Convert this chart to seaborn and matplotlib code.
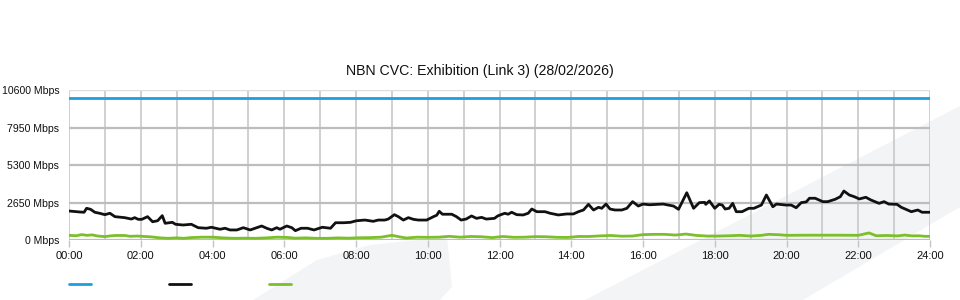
import numpy as np
import pandas as pd
import matplotlib
matplotlib.use("Agg")
import matplotlib.pyplot as plt
from matplotlib.patches import Polygon
from matplotlib.lines import Line2D
import seaborn as sns

# ---- data ----
title = "NBN CVC: Exhibition (Link 3) (28/02/2026)"
y_ticks = [0, 2650, 5300, 7950, 10600]
y_labels = ["0 Mbps", "2650 Mbps", "5300 Mbps", "7950 Mbps", "10600 Mbps"]
x_ticks = list(range(0, 25, 2))
x_labels = [f"{h:02d}:00" for h in x_ticks]

capacity_hours = [0, 24]
capacity = [10000, 10000]

down_hours = [0, 0.3, 0.42, 0.49, 0.6, 0.72, 0.85, 1.0, 1.14, 1.28, 1.55, 1.74, 1.83, 1.93, 2.03,
              2.19, 2.33, 2.47, 2.6, 2.68, 2.88, 2.97, 3.18, 3.41, 3.6, 3.83, 3.97, 4.21, 4.35,
              4.49, 4.68, 4.86, 5.05, 5.19, 5.37, 5.51, 5.65, 5.79, 5.88, 6.07, 6.21, 6.31, 6.47,
              6.65, 6.83, 7.06, 7.29, 7.43, 7.66, 7.85, 8.01, 8.25, 8.48, 8.62, 8.8, 8.9, 9.07,
              9.18, 9.32, 9.46, 9.6, 9.74, 9.97, 10.16, 10.25, 10.32, 10.41, 10.67, 10.8, 10.93,
              11.07, 11.22, 11.36, 11.5, 11.63, 11.86, 11.95, 12.05, 12.15, 12.24, 12.34, 12.48,
              12.66, 12.8, 12.9, 13.04, 13.27, 13.41, 13.64, 13.87, 14.06, 14.2, 14.34, 14.48,
              14.62, 14.76, 14.85, 14.97, 15.08, 15.22, 15.41, 15.55, 15.71, 15.87, 16.0, 16.18,
              16.56, 16.85, 16.99, 17.22, 17.41, 17.57, 17.72, 17.75, 17.85, 18.0, 18.12, 18.21,
              18.29, 18.4, 18.5, 18.6, 18.76, 18.95, 19.09, 19.3, 19.44, 19.62, 19.72, 19.99,
              20.13, 20.27, 20.41, 20.55, 20.64, 20.8, 21.01, 21.15, 21.36, 21.5, 21.6, 21.75,
              21.89, 22.03, 22.21, 22.35, 22.58, 22.72, 22.85, 23.08, 23.2, 23.48, 23.66, 23.78, 24.0]
download = [2050, 1980, 1960, 2240, 2170, 1960, 1890, 1790, 1890, 1650, 1580, 1480, 1580, 1460, 1460,
            1650, 1290, 1360, 1720, 1180, 1250, 1110, 1060, 1110, 870, 830, 900, 760, 830,
            710, 710, 870, 710, 830, 990, 830, 710, 870, 760, 990, 870, 660, 830,
            830, 710, 900, 830, 1220, 1220, 1250, 1360, 1410, 1320, 1410, 1410, 1480, 1790,
            1650, 1410, 1580, 1460, 1410, 1410, 1650, 1750, 2030, 1820, 1820, 1650, 1410,
            1480, 1700, 1530, 1600, 1480, 1530, 1700, 1800, 1890, 1820, 1960, 1790,
            1770, 1890, 2190, 2000, 2000, 1890, 1770, 1840, 1840, 2000, 2120, 2520,
            2120, 2310, 2240, 2540, 2190, 2120, 2120, 2240, 2710, 2400, 2540, 2490,
            2540, 2400, 2170, 3340, 2240, 2640, 2660, 2520, 2760, 2240, 2520, 2470,
            2190, 2240, 2590, 2000, 2000, 2240, 2240, 2470, 3180, 2350, 2540, 2470,
            2470, 2280, 2640, 2690, 2950, 2950, 2710, 2710, 2880, 3060, 3460, 3180,
            3060, 2900, 3020, 2830, 2590, 2710, 2540, 2520, 2310, 2000, 2120, 1960, 1960]

up_hours = [0, 0.2, 0.35, 0.5, 0.65, 0.8, 1.0, 1.15, 1.3, 1.55, 1.7, 1.9, 2.1, 2.3, 2.5, 2.75, 3.0,
            3.2, 3.4, 3.7, 4.0, 4.3, 4.6, 4.9, 5.2, 5.5, 5.8, 6.1, 6.3, 6.6, 6.9, 7.2, 7.5, 7.8,
            8.1, 8.4, 8.7, 9.0, 9.2, 9.4, 9.7, 10.0, 10.3, 10.6, 10.9, 11.2, 11.5, 11.8, 12.1,
            12.4, 12.7, 13.0, 13.3, 13.6, 13.9, 14.2, 14.5, 14.8, 15.1, 15.4, 15.7, 16.0, 16.3,
            16.6, 16.9, 17.2, 17.5, 17.8, 18.1, 18.4, 18.7, 19.0, 19.3, 19.5, 19.8, 20.0, 20.5,
            21.0, 21.5, 22.0, 22.3, 22.5, 22.8, 23.1, 23.3, 23.5, 23.7, 23.85, 24.0]
upload = [330, 300, 380, 330, 360, 280, 240, 290, 320, 320, 260, 280, 250, 220, 160, 120, 150,
          120, 170, 200, 200, 150, 120, 130, 120, 150, 200, 180, 130, 150, 120, 120, 150, 130,
          160, 170, 200, 330, 230, 140, 200, 190, 200, 260, 200, 250, 230, 170, 250,
          190, 200, 240, 230, 190, 180, 250, 250, 290, 320, 270, 280, 380, 400,
          400, 350, 420, 320, 280, 280, 300, 330, 280, 330, 400, 370, 330, 340,
          340, 340, 330, 500, 300, 320, 290, 350, 290, 300, 260, 260]

series_names = ["Capacity", "Download", "Upload"]
series_colors = ["#1b9fe0", "#111111", "#7cbf2a"]

# ---- figure ----
sns.set_theme(style="white")
plt.rcParams["font.family"] = ["Liberation Sans", "DejaVu Sans"]

W, H = 960, 300
fig = plt.figure(figsize=(W / 100, H / 100), dpi=100, facecolor="white")

def px(x, y):
    return (x / W, 1 - y / H)

# watermark shapes
shape_a = [(253, 300), (317, 260), (370, 245), (447, 237), (452, 287), (440, 300)]
shape_b = [(585, 300), (960, 106), (960, 207), (803, 300)]
for shp in (shape_a, shape_b):
    fig.patches.append(Polygon([px(*p) for p in shp], closed=True, transform=fig.transFigure,
                               facecolor="#f3f4f6", edgecolor="none", zorder=0))

ax = fig.add_axes([69 / W, 1 - 240 / H, (930 - 69) / W, 150 / H])
ax.set_facecolor("none")
ax.set_zorder(1)

df_cap = pd.DataFrame({"hour": capacity_hours, "value": capacity})
df_down = pd.DataFrame({"hour": down_hours, "value": download})
df_up = pd.DataFrame({"hour": up_hours, "value": upload})

sns.lineplot(data=df_cap, x="hour", y="value", color=series_colors[0], linewidth=2.0, ax=ax, zorder=5)
sns.lineplot(data=df_down, x="hour", y="value", color=series_colors[1], linewidth=2.0, ax=ax, zorder=5)
sns.lineplot(data=df_up, x="hour", y="value", color=series_colors[2], linewidth=2.0, ax=ax, zorder=5)

ax.set_xlim(0, 24)
ax.set_ylim(0, 10600)
ax.set_xlabel("")
ax.set_ylabel("")

ax.set_xticks(x_ticks)
ax.set_xticklabels(x_labels)
ax.set_xticks(range(0, 25), minor=True)
ax.set_yticks(y_ticks)
ax.set_yticklabels(y_labels)

ax.grid(False)
for h in range(0, 25):
    ax.axvline(h, color="#c4c4c4", linewidth=1.1, zorder=1)
for v in y_ticks[:-1]:
    ax.axhline(v, color="#bdbdbd", linewidth=1.6, zorder=1)
ax.axhline(y_ticks[-1], color="#dddddd", linewidth=1.0, zorder=1)

for s in ax.spines.values():
    s.set_visible(False)

ax.tick_params(axis="x", which="major", length=5, width=1, color="#c4c4c4",
               pad=3, labelsize=8, labelcolor="#111111", bottom=True)
ax.tick_params(axis="x", which="minor", length=0)
ax.tick_params(axis="y", length=0, pad=7, labelsize=7.6, labelcolor="#111111")
for lbl in ax.get_yticklabels():
    lbl.set_va("center_baseline")

fig.text(480 / W, 1 - 71 / H, title, ha="center", va="center", fontsize=10.2, color="#111111")

handles = [Line2D([], [], color=c, linewidth=2.0) for c in series_colors]
fs = 10
fs_px = fs * 100 / 72
fig.legend(handles, ["", "", ""], loc="center left", bbox_to_anchor=(69 / W, 1 - 285 / H),
           ncol=3, frameon=False, fontsize=fs, handlelength=22 / fs_px, handletextpad=0,
           columnspacing=(100 - 22) / fs_px, borderpad=0, borderaxespad=0)

fig.savefig("out.png", dpi=100, facecolor="white")
